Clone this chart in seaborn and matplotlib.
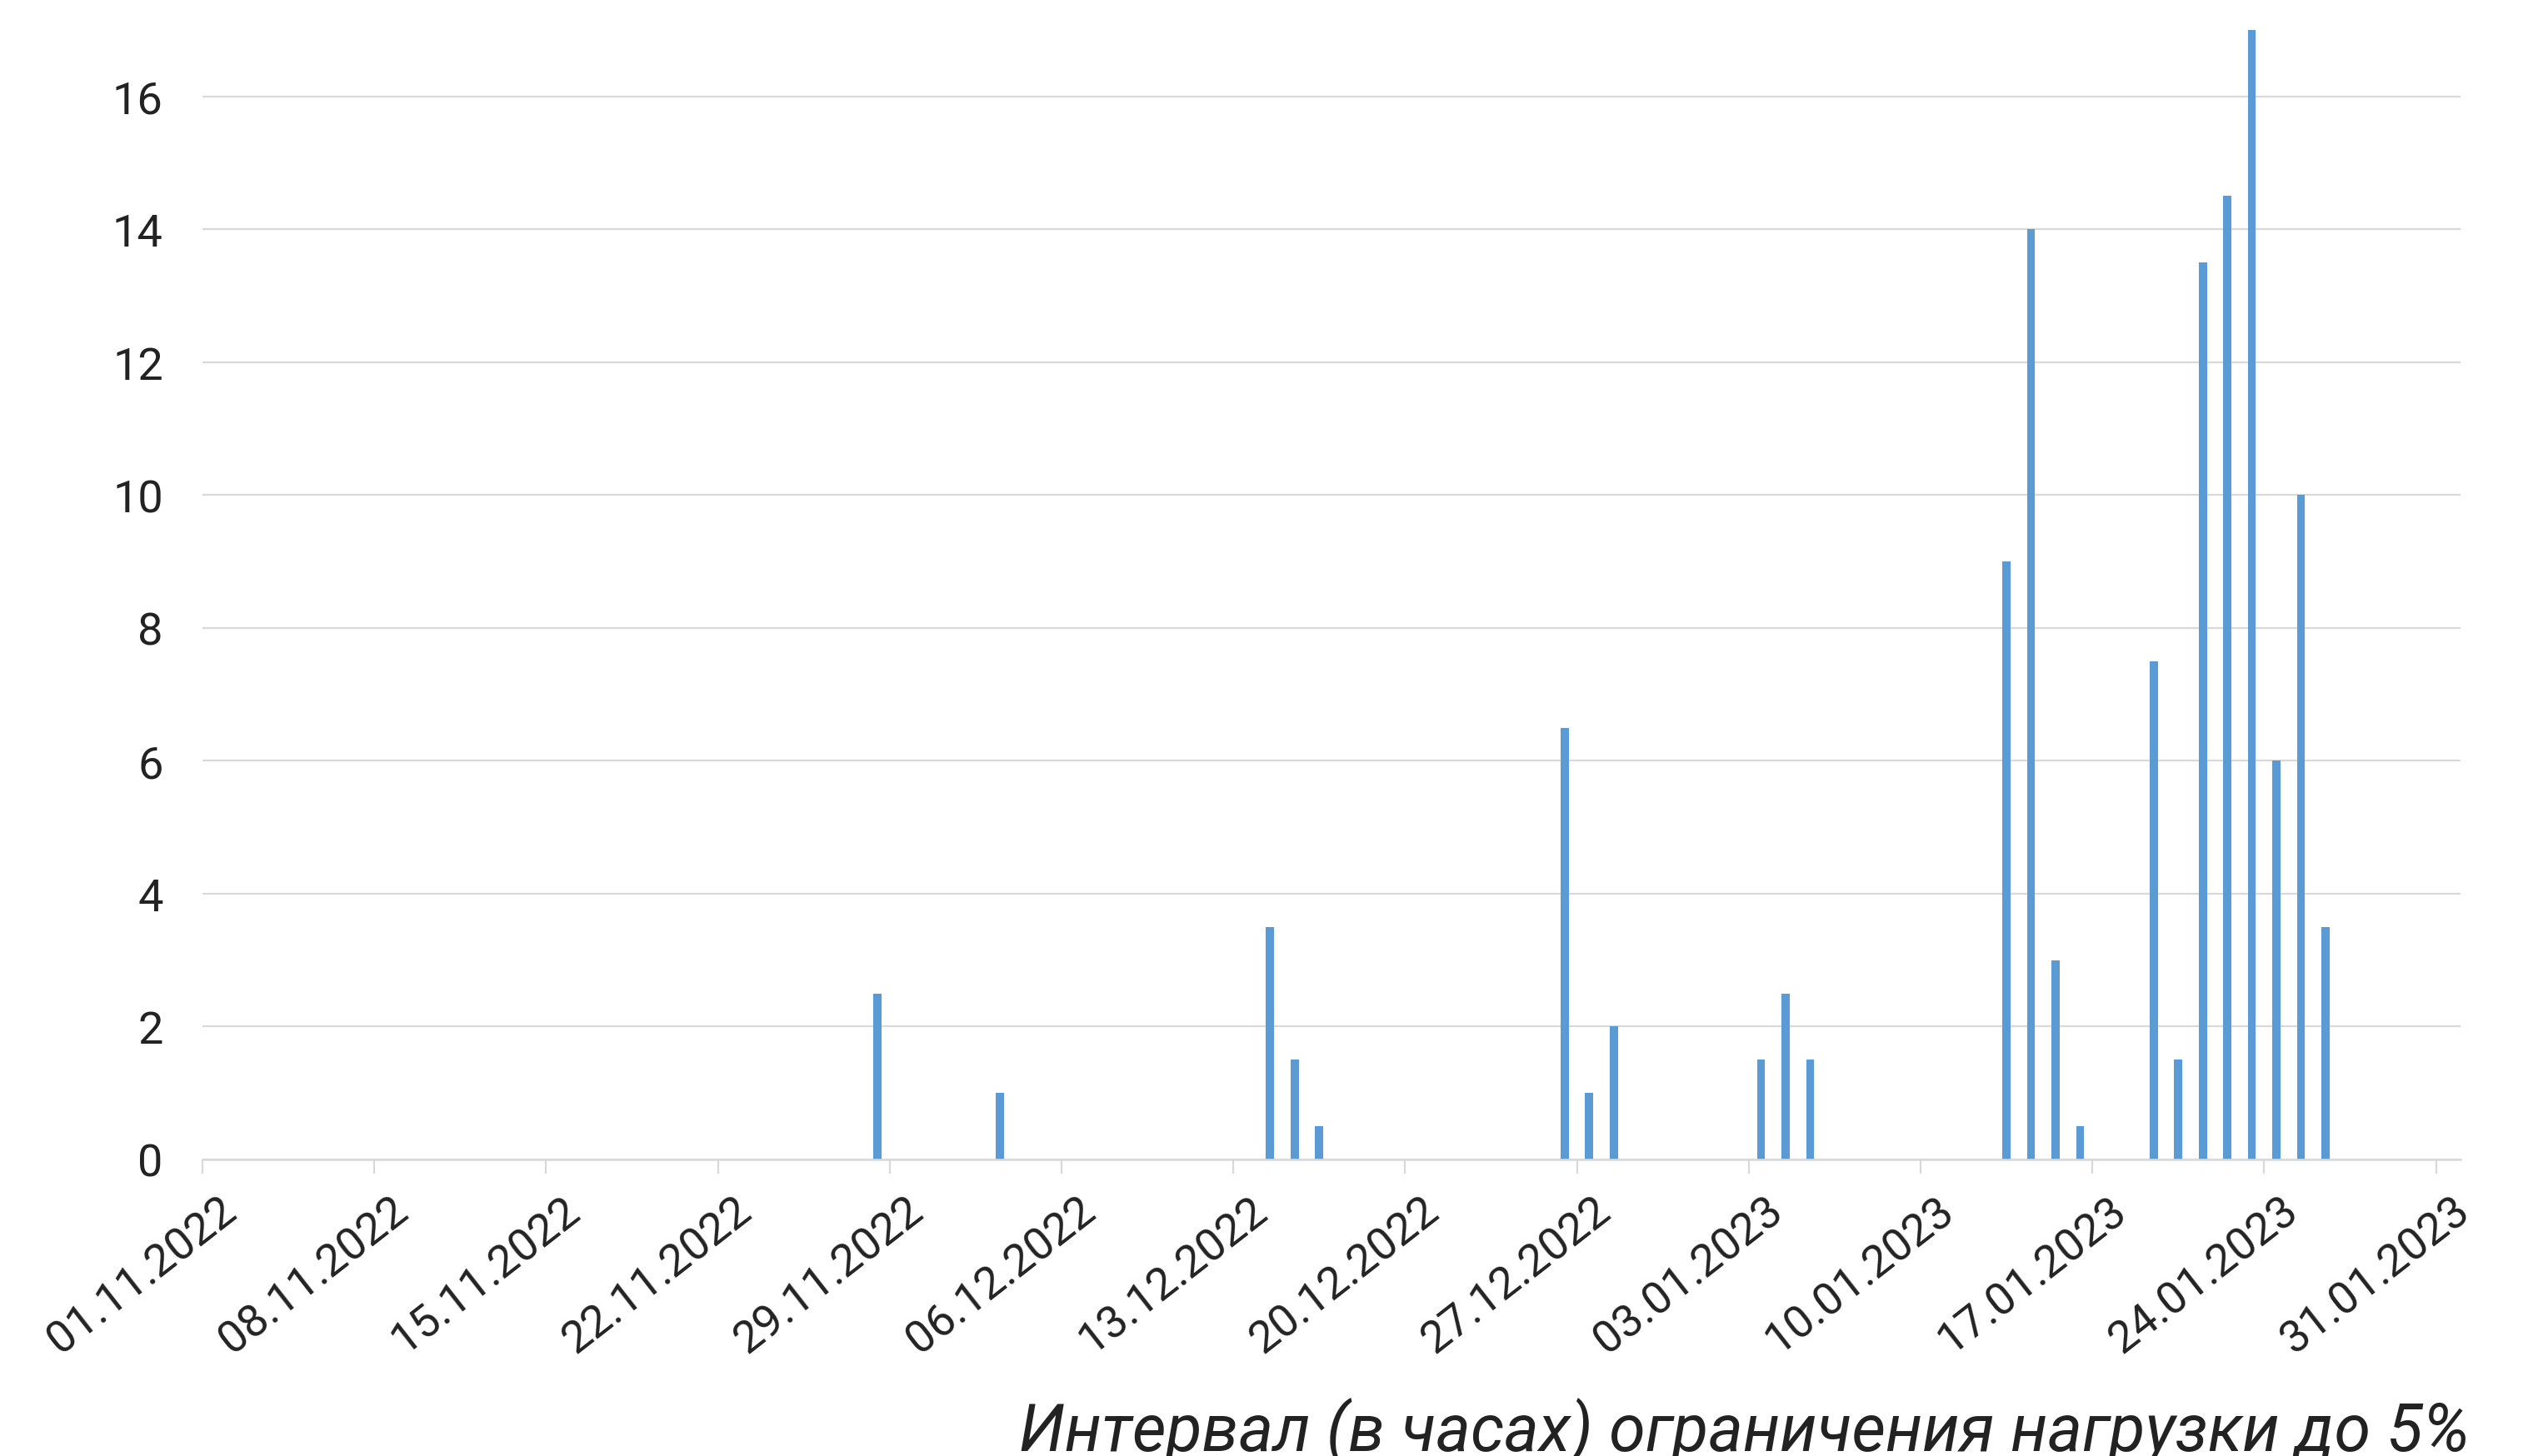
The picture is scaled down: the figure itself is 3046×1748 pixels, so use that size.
import matplotlib
matplotlib.use("Agg")
import matplotlib.pyplot as plt
import matplotlib.dates as mdates
import matplotlib.ticker as mticker
import matplotlib.transforms as mtransforms
import numpy as np
import pandas as pd
import seaborn as sns

# ---- data ----
dates = ["2022-11-28", "2022-12-03", "2022-12-14", "2022-12-15", "2022-12-16",
         "2022-12-26", "2022-12-27", "2022-12-28", "2023-01-03", "2023-01-04",
         "2023-01-05", "2023-01-13", "2023-01-14", "2023-01-15", "2023-01-16",
         "2023-01-19", "2023-01-20", "2023-01-21", "2023-01-22", "2023-01-23",
         "2023-01-24", "2023-01-25", "2023-01-26"]
hours = [2.5, 1, 3.5, 1.5, 0.5,
         6.5, 1, 2, 1.5, 2.5,
         1.5, 9, 14, 3, 0.5,
         7.5, 1.5, 13.5, 14.5, 17,
         6, 10, 3.5]
x_start = "2022-11-01"
x_last_tick = "2023-01-31"
x_end = "2023-02-01"
y_ticks = [0, 2, 4, 6, 8, 10, 12, 14, 16]
x_label = "Интервал (в часах) ограничения нагрузки до 5%"

sns.set_theme(style="white")
plt.rcParams["font.family"] = ["Roboto", "DejaVu Sans"]

df = pd.DataFrame({
    "x": mdates.date2num(pd.to_datetime(dates) + pd.Timedelta(hours=12)),
    "y": hours,
})

fig = plt.figure(figsize=(30.46, 17.49), dpi=100)
ax = fig.add_axes([243 / 3046, 356 / 1749, (2953 - 243) / 3046, (1393 - 37) / 1749])

sns.barplot(data=df, x="x", y="y", native_scale=True, width=0.33,
            color="#5B9BD5", saturation=1, linewidth=0, errorbar=None, ax=ax)

ax.set_xlim(mdates.date2num(pd.Timestamp(x_start)), mdates.date2num(pd.Timestamp(x_end)))
ax.set_ylim(0, 17)
ax.set_yticks(y_ticks)
ax.set_yticklabels([str(v) for v in y_ticks])

ax.xaxis.set_major_locator(mticker.FixedLocator(
    mdates.date2num(pd.date_range(x_start, x_last_tick, freq="7D"))))
ax.xaxis.set_major_formatter(mdates.DateFormatter("%d.%m.%Y"))

ax.grid(axis="y", color="#D9D9D9", linewidth=1.6)
ax.grid(axis="x", visible=False)
ax.set_axisbelow(True)
for s in ["top", "right", "left"]:
    ax.spines[s].set_visible(False)
ax.spines["bottom"].set_color("#D9D9D9")
ax.spines["bottom"].set_linewidth(1.8)

ax.tick_params(axis="y", length=0, pad=34, labelsize=39, labelcolor="#222222")
ax.tick_params(axis="x", length=12, width=1.6, color="#D9D9D9", pad=13,
               labelsize=39, labelcolor="#222222", bottom=True)

offset = mtransforms.ScaledTranslation(0.19, 0, fig.dpi_scale_trans)
for lbl in ax.get_xticklabels():
    lbl.set_rotation(38)
    lbl.set_ha("right")
    lbl.set_va("top")
    lbl.set_rotation_mode("anchor")
    lbl.set_transform(lbl.get_transform() + offset)

ax.set_xlabel(x_label, fontsize=57, fontstyle="italic", color="#222222", loc="right")
ax.xaxis.set_label_coords(1.004, -0.258)
ax.xaxis.label.set_va("baseline")
ax.set_ylabel("")

fig.savefig("out.png", dpi=100, facecolor="white")
